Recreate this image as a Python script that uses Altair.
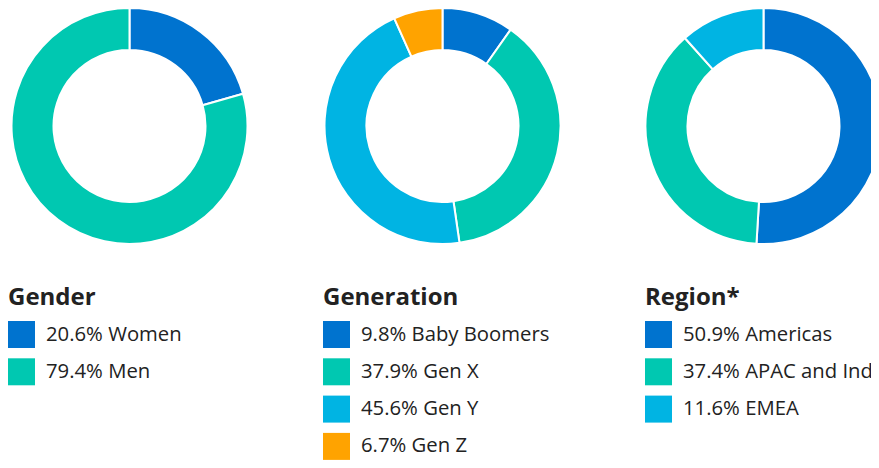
import altair as alt
import pandas as pd

FONT = "Open Sans"
TEXT_COLOR = "#222222"

# ---- data ----
gender_labels = ["Women", "Men"]
gender_values = [20.6, 79.4]

generation_labels = ["Baby Boomers", "Gen X", "Gen Y", "Gen Z"]
generation_values = [9.8, 37.9, 45.6, 6.7]

region_labels = ["Americas", "APAC and India", "EMEA"]
region_values = [50.9, 37.4, 11.6]

palette = ["#0073CF", "#00C8B1", "#00B4E3", "#FFA300"]

titles = ["Gender", "Generation", "Region*"]

HEIGHT = 452


def panel(title, labels, values, width, cx):
    n = len(labels)
    df = pd.DataFrame({
        "label": labels,
        "value": values,
        "idx": list(range(n)),
        "text": [f"{v}% {l}" for v, l in zip(values, labels)],
    })
    base = alt.Chart(df)
    color = alt.Color("label:N", scale=alt.Scale(domain=labels, range=palette[:n]), legend=None)
    arc = base.mark_arc(radius=118, radius2=76, stroke="white", strokeWidth=2, clip=True).encode(
        theta=alt.Theta("value:Q", stack=True),
        color=color,
        order=alt.Order("idx:Q"),
        x=alt.value(cx),
        y=alt.value(118),
    )
    rows = alt.Y("idx:Q", scale=alt.Scale(domain=[0, 3], range=[326.5, 438.4]), axis=None)
    sq = base.mark_square(size=729, opacity=1).encode(x=alt.value(13.5), y=rows, color=color)
    txt = base.mark_text(align="left", baseline="middle", fontSize=20.3, font=FONT, color=TEXT_COLOR, clip=True).encode(
        x=alt.value(38), y=rows, text="text:N"
    )
    ttl = alt.Chart(pd.DataFrame({"t": [title]})).mark_text(
        align="left", baseline="alphabetic", fontSize=24, fontWeight="bold", font=FONT, color=TEXT_COLOR
    ).encode(x=alt.value(0), y=alt.value(297), text="t:N")
    return alt.layer(arc, sq, txt, ttl).properties(width=width, height=HEIGHT)


p1 = panel(titles[0], gender_labels, gender_values, 315, 121.5)
p2 = panel(titles[1], generation_labels, generation_values, 322, 119.5)
p3 = panel(titles[2], region_labels, region_values, 226, 118.5)

chart = (
    alt.hconcat(p1, p2, p3, spacing=0)
    .resolve_scale(color="independent", y="independent")
    .properties(padding=0)
    .configure_view(stroke=None)
)

chart.save("out.html", embed_options={"renderer": "svg", "actions": False})
